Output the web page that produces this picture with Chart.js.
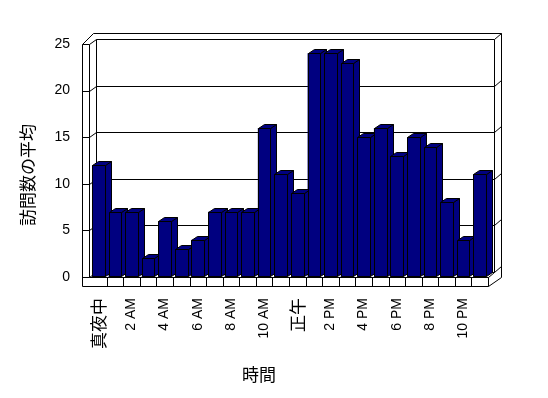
<!DOCTYPE html>
<html>
<head>
<meta charset="utf-8">
<script src="https://cdn.jsdelivr.net/npm/chart.js@4"></script>
<style>
  html, body { margin: 0; padding: 0; background: #fff; }
  #wrap { width: 548px; height: 398px; }
</style>
</head>
<body>
<div id="wrap"><canvas id="visits-chart" width="548" height="398"></canvas></div>
<script>
// data
const hours = ["真夜中", "1 AM", "2 AM", "3 AM", "4 AM", "5 AM", "6 AM", "7 AM", "8 AM", "9 AM", "10 AM", "11 AM",
  "正午", "1 PM", "2 PM", "3 PM", "4 PM", "5 PM", "6 PM", "7 PM", "8 PM", "9 PM", "10 PM", "11 PM"];
const avgVisits = [12, 7, 7, 2, 6, 3, 4, 7, 7, 7, 16, 11, 9, 24, 24, 23, 15, 16, 13, 15, 14, 8, 4, 11];
const yTicks = [0, 5, 10, 15, 20, 25];
const xTitle = "時間";
const yTitle = "訪問数の平均";

const NAVY = "#000080";
const LATIN = '"Liberation Sans", Arial, sans-serif';
const CJK = '"Noto Sans CJK JP", sans-serif';

function seg(ctx, pts) {
  ctx.beginPath();
  ctx.moveTo(pts[0][0] + 0.5, pts[0][1] + 0.5);
  for (let i = 1; i < pts.length; i++) ctx.lineTo(pts[i][0] + 0.5, pts[i][1] + 0.5);
  ctx.stroke();
}

function poly(ctx, pts) {
  ctx.beginPath();
  ctx.moveTo(pts[0][0] + 0.5, pts[0][1] + 0.5);
  for (let i = 1; i < pts.length; i++) ctx.lineTo(pts[i][0] + 0.5, pts[i][1] + 0.5);
  ctx.closePath();
  ctx.fill();
  ctx.stroke();
}

// fake Excel-style 3D box: walls, floor, gridlines, then bar faces
const box3d = {
  id: "box3d",
  beforeDatasetsDraw(chart) {
    const { ctx, chartArea: ca, scales } = chart;
    const L = Math.round(ca.left) - 1, R = Math.round(ca.right);
    const T = Math.round(ca.top), B = Math.round(ca.bottom);
    ctx.save();
    ctx.strokeStyle = "#000";
    ctx.lineWidth = 1;

    // gridlines on back wall + ticks on left wall
    yTicks.forEach((v) => {
      const y = Math.round(scales.y.getPixelForValue(v));
      seg(ctx, [[L - 7, y], [L, y], [L + 7, y - 5], [R + 6, y - 5], [R + 13, y - 11]]);
    });

    // left wall
    seg(ctx, [[L - 7, T], [L - 7, B + 9]]);
    seg(ctx, [[L, T], [L, B]]);
    seg(ctx, [[L - 7, T], [L + 4, T - 11]]);
    seg(ctx, [[L + 7, T - 5], [L + 7, B - 5]]);

    // back wall top & right
    seg(ctx, [[L + 4, T - 11], [R + 13, T - 11], [R + 13, B]]);
    seg(ctx, [[R + 6, T - 5], [R + 6, B - 5]]);

    // floor
    seg(ctx, [[L, B], [R, B], [R, B + 9], [L - 7, B + 9]]);
    seg(ctx, [[R, B], [R + 6, B - 5]]);
    seg(ctx, [[R, B + 9], [R + 13, B]]);
    const catW = (ca.right - ca.left) / hours.length;
    for (let i = 1; i < hours.length; i++) {
      const x = Math.round(ca.left + i * catW);
      seg(ctx, [[x, B], [x, B + 9]]);
    }
    ctx.restore();
  },
  afterDatasetsDraw(chart) {
    const { ctx } = chart;
    const meta = chart.getDatasetMeta(0);
    ctx.save();
    ctx.strokeStyle = "#000";
    ctx.fillStyle = NAVY;
    ctx.lineWidth = 1;
    meta.data.forEach((bar) => {
      const { x, y, base, width } = bar.getProps(["x", "y", "base", "width"], true);
      const l = Math.round(x - width / 2), r = Math.round(x + width / 2);
      const t = Math.round(y), b = Math.round(base) - 1;
      poly(ctx, [[r, t], [r + 6, t - 4], [r + 6, b - 4], [r, b]]);
      poly(ctx, [[l, t], [l + 6, t - 4], [r + 6, t - 4], [r, t]]);
      poly(ctx, [[l, t], [r, t], [r, b], [l, b]]);
    });
    ctx.restore();
  },
  afterDraw(chart) {
    const { ctx } = chart;
    ctx.save();
    ctx.fillStyle = "#000";
    ctx.font = "17px " + CJK;
    ctx.textAlign = "center";
    ctx.textBaseline = "middle";
    ctx.fillText(xTitle, 259, 375);
    ctx.translate(28, 175);
    ctx.rotate(-Math.PI / 2);
    ctx.fillText(yTitle, 0, 0);
    ctx.restore();
  },
};

const ctx = document.getElementById("visits-chart").getContext("2d");

new Chart(ctx, {
  type: "bar",
  data: {
    labels: hours,
    datasets: [
      {
        data: avgVisits,
        backgroundColor: NAVY,
        borderWidth: 0,
        categoryPercentage: 1,
        barPercentage: 0.76,
      },
    ],
  },
  options: {
    responsive: false,
    animation: false,
    layout: { padding: { left: 0, right: 60, top: 44, bottom: 0 } },
    plugins: { legend: { display: false }, tooltip: { enabled: false } },
    scales: {
      x: {
        grid: { display: false, drawTicks: false },
        border: { display: false },
        ticks: {
          autoSkip: false,
          minRotation: 90,
          maxRotation: 90,
          padding: 21,
          color: "#000",
          font: (c) => ({
            family: /[^\x00-\x7F]/.test(hours[c.index] || "") ? CJK : LATIN,
            size: /[^\x00-\x7F]/.test(hours[c.index] || "") ? 17 : 14,
          }),
          callback: (v, i) => (i % 2 === 0 ? hours[i] : ""),
        },
        afterFit: (s) => { s.height = 121; },
      },
      y: {
        min: 0,
        max: 25,
        grid: { display: false, drawTicks: false },
        border: { display: false },
        ticks: { stepSize: 5, padding: 20, color: "#000", font: { family: LATIN, size: 14 } },
        afterFit: (s) => { s.width = 90; },
      },
    },
  },
  plugins: [box3d],
});
</script>
</body>
</html>
